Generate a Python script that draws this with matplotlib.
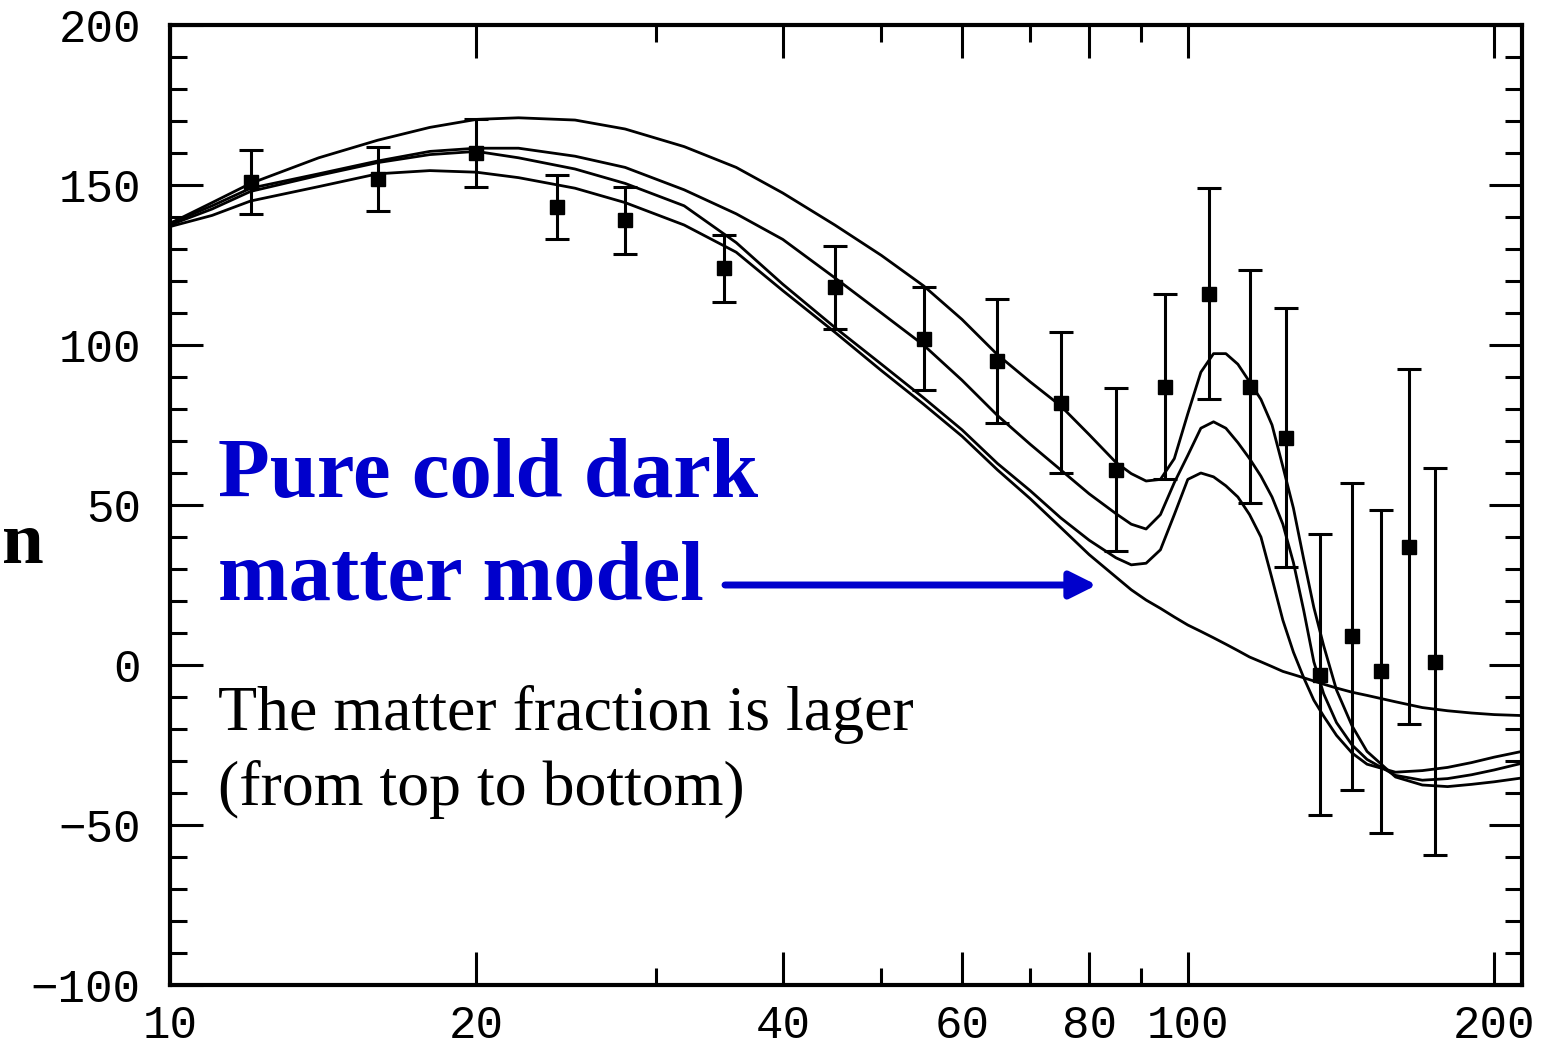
import numpy as np
import matplotlib
matplotlib.use("Agg")
import matplotlib.pyplot as plt
from matplotlib.ticker import FixedLocator, MultipleLocator, NullFormatter, FuncFormatter

# multipole grid for the model curves
ell = [10, 11, 12, 14, 16, 18, 20, 22, 25, 28, 32, 36, 40, 45, 50, 55, 60, 65, 70, 75, 80,
       85, 88, 91, 94, 97, 100, 103, 106, 109, 112, 115, 118, 121, 124, 127, 130, 133,
       136, 140, 145, 150,
       160, 170, 180, 190, 200, 213]

# model spectra, top to bottom at the first peak
model_a = [138, 144.5, 150.5, 158.5, 164, 168, 170.5, 171, 170.3, 167.5, 162, 155.5,
           147.5, 137.5, 128, 118.5, 108, 97, 88.5, 81, 72,
           63.3, 59.8, 57.5, 58, 64.5, 78.5, 91.5, 97.3, 97.3, 94, 88.5, 83, 75, 62,
           49, 33, 18, 6, -7.8, -19, -27,
           -35, -37.5, -38, -37.3, -36.5, -35.3]
model_b = [138, 143.5, 149, 153.5, 157.5, 160.5, 161.5, 161.5, 159, 155.5, 148.5, 141,
           133, 121, 110, 100, 89, 78, 69, 61, 53.5,
           47.3, 44, 42.5, 47, 57, 65.5, 74, 76, 74, 69.5, 64.5, 59, 52.5, 44, 32,
           17, 1, -9, -18, -25, -29.5,
           -34.5, -36, -35.5, -34.3, -32.8, -30.7]
model_c = [137.5, 142.5, 148, 153, 157, 159.5, 160.5, 158.5, 155, 150.5, 143.5, 132,
           119, 105.5, 94, 83.5, 73.5, 63, 54.5, 46, 39,
           33.5, 31.3, 31.8, 36, 47, 58, 60, 58.8, 56, 52.5, 47, 40, 27, 14, 4,
           -4, -11, -16, -22, -27.5, -31,
           -33.5, -33, -32, -30.5, -28.8, -27]
# pure cold dark matter
model_cdm = [137, 140.5, 145, 149.5, 153.5, 154.5, 154, 152.3, 149, 144.5, 137.5, 129,
             117, 104, 92, 81.5, 71.5, 61, 52, 43, 34.5,
             27.5, 23.5, 20.3, 17.7, 15, 12.5, 10.5, 8.5, 6.5, 4.5, 2.5, 1, -0.5, -2,
             -3, -4, -5, -6, -7.2, -8.5, -9.5,
             -11.5, -13.3, -14.3, -15, -15.5, -15.8]

# measured band powers
obs_l = [12, 16, 20, 24, 28, 35, 45, 55, 65, 75, 85, 95, 105, 115, 125, 135, 145,
         155, 165, 175]
obs_v = [151, 152, 160, 143, 139, 124, 118, 102, 95, 82, 61, 87, 116, 87, 71, -3,
         9, -2, 37, 1]
obs_err = [10, 10, 10.5, 10, 10.5, 10.5, 13, 16, 19.5, 22, 25.5, 29, 33, 36.5,
           40.5, 44, 48, 50.5, 55.5, 60.5]

x_ticks = [10, 20, 40, 60, 80, 100, 200]
x_minor = [30, 50, 70, 90]

W, H = 1543, 1050
fig = plt.figure(figsize=(W / 100, H / 100), dpi=100)
ax = fig.add_axes([170 / W, (H - 985) / H, 1352 / W, 960 / H])

for yv in (model_a, model_b, model_c, model_cdm):
    ax.plot(ell, yv, color="black", lw=2.0, solid_joinstyle="round")

ax.errorbar(obs_l, obs_v, yerr=obs_err, fmt="s", color="black", ms=10.5,
            elinewidth=2.2, capsize=8.5, capthick=2.2)

ax.set_xscale("log")
ax.set_xlim(10, 213)
ax.set_ylim(-100, 200)

ax.xaxis.set_major_locator(FixedLocator(x_ticks))
ax.xaxis.set_minor_locator(FixedLocator(x_minor))
ax.xaxis.set_major_formatter(FuncFormatter(lambda v, p: f"{v:g}"))
ax.xaxis.set_minor_formatter(NullFormatter())
ax.yaxis.set_major_locator(MultipleLocator(50))
ax.yaxis.set_minor_locator(MultipleLocator(10))
ax.yaxis.set_major_formatter(FuncFormatter(lambda v, p: f"{v:g}".replace("-", "\u2212")))

ax.tick_params(which="both", direction="in", top=True, right=True, width=2.2)
ax.tick_params(which="major", length=24)
ax.tick_params(which="minor", length=12)
ax.tick_params(axis="y", which="major", pad=21)
ax.tick_params(axis="x", which="major", pad=14)
for lab in ax.get_xticklabels() + ax.get_yticklabels():
    lab.set_family(["Liberation Mono", "DejaVu Sans Mono"])
    lab.set_fontsize(33)
for s in ax.spines.values():
    s.set_linewidth(3)

blue = "#0000cc"
ax.text(0.0355, 0.508, "Pure cold dark", transform=ax.transAxes, color=blue,
        fontsize=61, fontweight="bold", family="Liberation Serif", va="baseline")
ax.text(0.0355, 0.401, "matter model", transform=ax.transAxes, color=blue,
        fontsize=61, fontweight="bold", family="Liberation Serif", va="baseline")
ax.annotate("", xy=(81.4, 25), xytext=(35.1, 25),
            arrowprops=dict(arrowstyle="-|>", color=blue, lw=5,
                            mutation_scale=40, shrinkA=0, shrinkB=0))
ax.text(0.0355, 0.2656, "The matter fraction is lager", transform=ax.transAxes,
        fontsize=46, family="Liberation Serif", va="baseline")
ax.text(0.0355, 0.1875, "(from top to bottom)", transform=ax.transAxes,
        fontsize=46, family="Liberation Serif", va="baseline")

# axis label remnant at the left edge
fig.text(2 / W, (H - 563) / H, "n", fontsize=54, fontweight="bold",
         family="Liberation Serif", ha="left", va="baseline")

fig.savefig("out.png", dpi=100)
